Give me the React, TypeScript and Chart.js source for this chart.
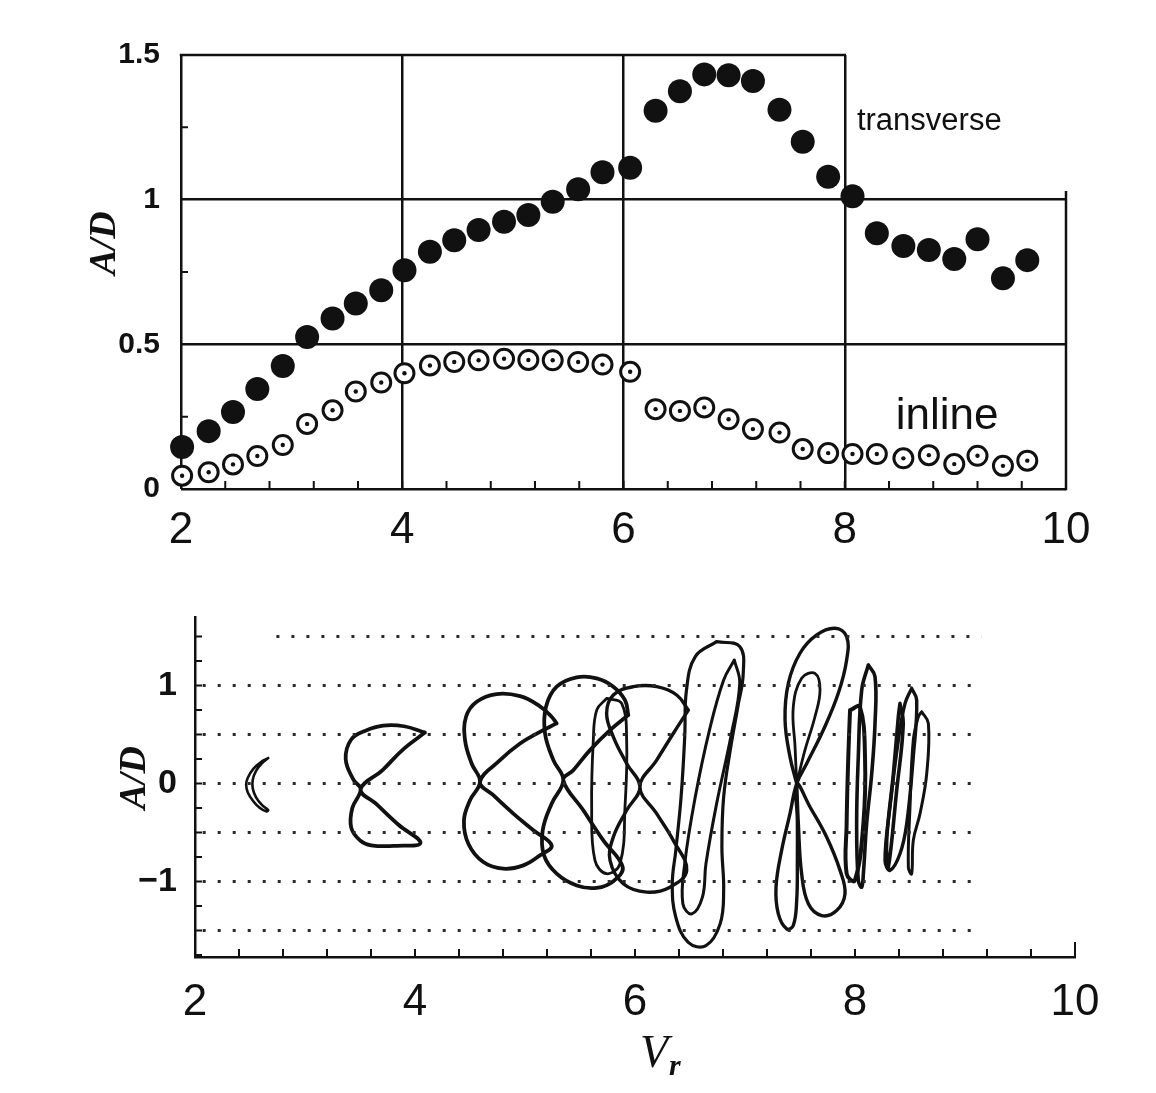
import React, { useEffect, useRef } from 'react';
import { Chart, registerables } from 'chart.js';

Chart.register(...registerables);

// ---------------- top panel: amplitude ratios ----------------
const vrValues = [2.01, 2.25, 2.47, 2.69, 2.92, 3.14, 3.37, 3.58, 3.81, 4.02, 4.25, 4.47, 4.69, 4.92, 5.14, 5.36, 5.59, 5.81, 6.06, 6.29, 6.51, 6.73, 6.95, 7.17, 7.41, 7.62, 7.85, 8.07, 8.29, 8.53, 8.76, 8.99, 9.2, 9.43, 9.65];
const transverseAD = [0.145, 0.2, 0.266, 0.346, 0.425, 0.525, 0.589, 0.641, 0.687, 0.756, 0.82, 0.86, 0.895, 0.924, 0.947, 0.993, 1.036, 1.095, 1.11, 1.307, 1.375, 1.433, 1.43, 1.41, 1.311, 1.2, 1.079, 1.012, 0.884, 0.84, 0.826, 0.795, 0.863, 0.728, 0.791];
const inlineAD = [0.046, 0.058, 0.085, 0.114, 0.152, 0.225, 0.272, 0.337, 0.368, 0.4, 0.427, 0.439, 0.445, 0.45, 0.446, 0.445, 0.439, 0.43, 0.405, 0.276, 0.27, 0.282, 0.241, 0.207, 0.195, 0.138, 0.124, 0.121, 0.121, 0.106, 0.117, 0.086, 0.115, 0.08, 0.098];
const topXTicks = [2, 4, 6, 8, 10];
const topXTickLabels = ['2', '4', '6', '8', '10'];
const topYTicks = [0, 0.5, 1, 1.5];
const topYTickLabels = ['0', '0.5', '1', '1.5'];

// ---------------- bottom panel: orbit traces ----------------
const bottomXTicks = [2, 4, 6, 8, 10];
const bottomXTickLabels = ['2', '4', '6', '8', '10'];
const bottomYTicks = [-1, 0, 1];
const bottomYTickLabels = ['\u22121', '0', '1'];
const refLevels = [1.5, 1, 0.5, 0, -0.5, -1, -1.5];
const refStarts = [2.74, 2.07, 2.07, 2.07, 2.07, 2.07, 2.07];
const refEnd = 9.15;

const orbitVr26 = [[2.666, 0.26], [2.6, 0.22], [2.53, 0.15], [2.48, 0.06], [2.465, -0.01], [2.48, -0.09], [2.53, -0.18], [2.59, -0.25], [2.65, -0.285], [2.665, -0.27], [2.61, -0.22], [2.555, -0.14], [2.525, -0.05], [2.525, 0.04], [2.555, 0.13], [2.61, 0.21], [2.666, 0.26]];
const orbitVr37 = [[4.09, 0.52], [3.9, 0.585], [3.71, 0.592], [3.55, 0.54], [3.42, 0.45], [3.37, 0.25], [3.44, 0.04], [3.506, -0.06], [3.43, -0.25], [3.42, -0.45], [3.5, -0.58], [3.6, -0.63], [3.83, -0.635], [4.05, -0.605], [3.85, -0.42], [3.65, -0.21], [3.506, -0.06], [3.71, 0.143], [3.89, 0.347], [4.09, 0.52]];
const orbitVr48 = [[5.288, 0.614], [5.242, 0.682], [5.121, 0.801], [4.955, 0.893], [4.742, 0.914], [4.561, 0.835], [4.464, 0.682], [4.455, 0.443], [4.515, 0.205], [4.591, 0.017], [4.5, -0.17], [4.445, -0.375], [4.485, -0.614], [4.621, -0.801], [4.803, -0.869], [4.985, -0.835], [5.136, -0.733], [5.242, -0.631], [5.076, -0.477], [4.894, -0.307], [4.712, -0.119], [4.591, 0.017], [4.773, 0.239], [4.955, 0.409], [5.136, 0.528], [5.288, 0.614]];
const orbitVr54 = [[5.939, 0.699], [5.909, 0.852], [5.803, 0.989], [5.652, 1.074], [5.47, 1.084], [5.288, 0.989], [5.191, 0.784], [5.182, 0.511], [5.258, 0.239], [5.348, 0.034], [5.242, -0.205], [5.161, -0.477], [5.173, -0.733], [5.288, -0.92], [5.47, -1.04], [5.652, -1.064], [5.803, -0.996], [5.888, -0.852], [5.712, -0.58], [5.53, -0.273], [5.348, 0.034], [5.439, 0.136], [5.591, 0.341], [5.773, 0.545], [5.939, 0.699]];
const orbitVr60 = [[6.485, 0.75], [6.379, 0.904], [6.197, 0.989], [5.985, 0.989], [5.803, 0.904], [5.742, 0.716], [5.803, 0.477], [5.924, 0.205], [6.045, -0.034], [5.924, -0.273], [5.803, -0.546], [5.773, -0.784], [5.894, -1.023], [6.106, -1.108], [6.318, -1.057], [6.47, -0.886], [6.348, -0.58], [6.197, -0.307], [6.045, -0.034], [6.197, 0.239], [6.348, 0.511], [6.485, 0.75]];
const orbitVr58 = [[5.742, 0.869], [5.879, 0.818], [5.924, 0.443], [5.909, -0.239], [5.864, -0.818], [5.742, -0.92], [5.636, -0.784], [5.606, -0.239], [5.621, 0.443], [5.652, 0.75], [5.742, 0.869]];
const orbitVr66a = [[6.742, 1.449], [6.952, 1.398], [6.984, 1.125], [6.935, 0.784], [6.871, 0.375], [6.806, -0.136], [6.79, -0.648], [6.806, -1.091], [6.774, -1.432], [6.645, -1.654], [6.484, -1.62], [6.371, -1.364], [6.339, -1.023], [6.371, -0.682], [6.419, -0.136], [6.452, 0.477], [6.468, 0.955], [6.548, 1.296], [6.742, 1.449]];
const orbitVr66b = [[6.903, 1.261], [6.952, 1.023], [6.871, 0.477], [6.742, -0.205], [6.645, -0.818], [6.613, -1.159], [6.516, -1.33], [6.435, -1.227], [6.452, -0.818], [6.548, -0.136], [6.677, 0.546], [6.806, 1.057], [6.903, 1.261]];
const orbitVr75 = [[7.47, 0.0], [7.409, 0.273], [7.364, 0.648], [7.394, 1.023], [7.5, 1.33], [7.652, 1.517], [7.818, 1.585], [7.924, 1.5], [7.924, 1.262], [7.848, 0.921], [7.712, 0.546], [7.561, 0.205], [7.47, 0.0], [7.409, -0.307], [7.333, -0.682], [7.282, -1.057], [7.303, -1.33], [7.379, -1.483], [7.439, -1.449], [7.47, -1.193], [7.476, -0.784], [7.476, -0.375], [7.47, 0.0], [7.591, -0.239], [7.742, -0.546], [7.864, -0.886], [7.909, -1.125], [7.833, -1.296], [7.697, -1.347], [7.576, -1.227], [7.515, -0.921], [7.485, -0.409], [7.47, 0.0]];
const orbitVr75inner = [[7.47, 0.0], [7.455, 0.375], [7.439, 0.784], [7.515, 1.074], [7.636, 1.125], [7.682, 0.955], [7.636, 0.682], [7.545, 0.341], [7.47, 0.0]];
const orbitVr80a = [[8.121, 1.21], [8.182, 1.091], [8.182, 0.614], [8.152, 0.102], [8.106, -0.409], [8.076, -0.921], [8.061, -1.057], [8.03, -0.989], [8.015, -0.409], [8.03, 0.273], [8.061, 0.955], [8.121, 1.21]];
const orbitVr80b = [[7.955, 0.75], [8.045, 0.784], [8.091, 0.273], [8.076, -0.409], [7.999, -0.989], [7.924, -0.921], [7.924, -0.409], [7.939, 0.273], [7.955, 0.75]];
const orbitVr84a = [[8.515, 0.972], [8.561, 0.852], [8.53, 0.273], [8.47, -0.409], [8.409, -0.716], [8.318, -0.886], [8.273, -0.784], [8.318, -0.239], [8.394, 0.443], [8.455, 0.818], [8.515, 0.972]];
const orbitVr84b = [[8.606, 0.733], [8.667, 0.614], [8.652, 0.102], [8.591, -0.307], [8.53, -0.58], [8.515, -0.921], [8.485, -0.853], [8.5, -0.239], [8.53, 0.443], [8.576, 0.682], [8.606, 0.733]];
const orbitVr84c = [[8.409, 0.818], [8.439, 0.614], [8.379, -0.068], [8.303, -0.853], [8.288, -0.58], [8.349, 0.102], [8.394, 0.682], [8.409, 0.818]];

const orbits = [orbitVr26, orbitVr37, orbitVr48, orbitVr54, orbitVr60, orbitVr58, orbitVr66a, orbitVr66b, orbitVr75, orbitVr75inner, orbitVr80a, orbitVr80b, orbitVr84a, orbitVr84b, orbitVr84c];
const orbitWidths = [2.6, 3.8, 3.8, 3.8, 3.4, 2.8, 3.2, 3, 3.4, 2.8, 3.6, 4, 3.4, 3, 3.6];

const INK = '#111111';
const SANS = '"Liberation Sans", Arial, Helvetica, sans-serif';
const SERIF = '"Liberation Serif", "Times New Roman", serif';

const topDecor = {
  id: 'topDecor',
  beforeDatasetsDraw(chart: any) {
    const { ctx } = chart;
    const x = chart.scales.x;
    const y = chart.scales.y;
    ctx.save();
    ctx.strokeStyle = INK;
    ctx.lineWidth = 2.5;
    ctx.beginPath();
    ctx.moveTo(x.getPixelForValue(2) - 1.25, y.getPixelForValue(1.5));
    ctx.lineTo(x.getPixelForValue(8) + 1.25, y.getPixelForValue(1.5));
    ctx.moveTo(x.getPixelForValue(10), y.getPixelForValue(0) + 1.25);
    ctx.lineTo(x.getPixelForValue(10), y.getPixelForValue(1.03));
    ctx.stroke();
    ctx.lineWidth = 2;
    ctx.beginPath();
    for (let k = 1; k < 20; k++) {
      const px = x.getPixelForValue(2 + 0.4 * k);
      ctx.moveTo(px, y.getPixelForValue(0));
      ctx.lineTo(px, y.getPixelForValue(0) - 8);
    }
    for (const v of [0.25, 0.75, 1.25]) {
      const py = y.getPixelForValue(v);
      ctx.moveTo(x.getPixelForValue(2), py);
      ctx.lineTo(x.getPixelForValue(2) + 7, py);
    }
    ctx.stroke();
    ctx.restore();
  },
  afterDraw(chart: any) {
    const { ctx } = chart;
    const x = chart.scales.x;
    const y = chart.scales.y;
    ctx.save();
    ctx.fillStyle = INK;
    ctx.textBaseline = 'middle';
    ctx.textAlign = 'left';
    ctx.font = `31px ${SANS}`;
    ctx.fillText('transverse', x.getPixelForValue(8.11), y.getPixelForValue(1.27));
    ctx.font = `44px ${SANS}`;
    ctx.fillText('inline', x.getPixelForValue(8.46), y.getPixelForValue(0.25));
    ctx.translate(chart.chartArea.left - 76, y.getPixelForValue(0.85));
    ctx.rotate(-Math.PI / 2);
    ctx.textAlign = 'center';
    ctx.font = `italic bold 38px ${SERIF}`;
    ctx.fillText('A/D', 0, 0);
    ctx.restore();
  },
};

const bottomDecor = {
  id: 'bottomDecor',
  beforeDatasetsDraw(chart: any) {
    const { ctx } = chart;
    const x = chart.scales.x;
    const y = chart.scales.y;
    const base = chart.chartArea.bottom;
    const left = chart.chartArea.left;
    ctx.save();
    ctx.strokeStyle = INK;
    ctx.lineWidth = 2;
    ctx.beginPath();
    for (let k = 1; k <= 20; k++) {
      const px = x.getPixelForValue(2 + 0.4 * k);
      ctx.moveTo(px, base);
      ctx.lineTo(px, base - (k === 20 ? 15 : 8));
    }
    for (let k = -7; k <= 6; k++) {
      const py = y.getPixelForValue(0.25 * k);
      ctx.moveTo(left, py);
      ctx.lineTo(left + 7, py);
    }
    ctx.stroke();
    ctx.restore();
  },
  afterDraw(chart: any) {
    const { ctx } = chart;
    const x = chart.scales.x;
    const y = chart.scales.y;
    ctx.save();
    ctx.fillStyle = INK;
    ctx.textBaseline = 'alphabetic';
    ctx.textAlign = 'right';
    ctx.font = `italic 46px ${SERIF}`;
    const vx = x.getPixelForValue(6.3);
    const vy = chart.chartArea.bottom + 110;
    ctx.fillText('V', vx, vy);
    ctx.textAlign = 'left';
    ctx.font = `italic bold 30px ${SERIF}`;
    ctx.fillText('r', vx + 1, vy + 8);
    ctx.translate(chart.chartArea.left - 60, y.getPixelForValue(0.06));
    ctx.rotate(-Math.PI / 2);
    ctx.textAlign = 'center';
    ctx.textBaseline = 'middle';
    ctx.font = `italic bold 38px ${SERIF}`;
    ctx.fillText('A/D', 0, 0);
    ctx.restore();
  },
};

function topConfig(): any {
  const pts = (ys: number[]) => vrValues.map((v, i) => ({ x: v, y: ys[i] }));
  return {
    type: 'scatter',
    data: {
      datasets: [
        { label: 'transverse', order: 3, data: pts(transverseAD), pointRadius: 12, pointBackgroundColor: INK, pointBorderColor: INK, pointBorderWidth: 0, clip: false },
        { label: 'inline', order: 2, data: pts(inlineAD), pointRadius: 9.5, pointBackgroundColor: '#ffffff', pointBorderColor: INK, pointBorderWidth: 3, clip: false },
        { label: 'inline centre', order: 1, data: pts(inlineAD), pointRadius: 2.2, pointBackgroundColor: INK, pointBorderColor: INK, pointBorderWidth: 0, clip: false },
      ],
    },
    options: {
      animation: false,
      responsive: false,
      devicePixelRatio: 1,
      events: [],
      layout: { padding: { top: 55, right: 90, left: 0, bottom: 0 } },
      plugins: { legend: { display: false }, tooltip: { enabled: false } },
      scales: {
        x: {
          type: 'linear', min: 2, max: 10,
          afterBuildTicks: (s: any) => { s.ticks = topXTicks.map((v) => ({ value: v })); },
          afterFit: (s: any) => { s.height = 81; },
          grid: { color: (c: any) => (c.tick && c.tick.value === 10 ? 'rgba(0,0,0,0)' : INK), lineWidth: 2.5, drawTicks: false },
          border: { display: false },
          ticks: { padding: 15, color: INK, font: { family: SANS, size: 44 }, maxRotation: 0, autoSkip: false, callback: (_v: any, i: number) => topXTickLabels[i] },
        },
        y: {
          type: 'linear', min: 0, max: 1.5,
          afterBuildTicks: (s: any) => { s.ticks = topYTicks.map((v) => ({ value: v })); },
          afterFit: (s: any) => { s.width = 181; },
          grid: { color: (c: any) => (c.tick && c.tick.value === 1.5 ? 'rgba(0,0,0,0)' : INK), lineWidth: 2.5, drawTicks: false },
          border: { display: false },
          ticks: { padding: 21, color: INK, font: { family: SANS, size: 30, weight: 'bold' }, autoSkip: false, callback: (_v: any, i: number) => topYTickLabels[i] },
        },
      },
    },
    plugins: [topDecor],
  };
}

function bottomConfig(): any {
  const refSets = refLevels.map((lvl, i) => ({
    label: `ref ${lvl}`,
    data: [{ x: refStarts[i], y: lvl }, { x: refEnd, y: lvl }],
    showLine: true,
    borderColor: '#2a2a2a',
    borderWidth: 3,
    borderDash: [3, 12],
    pointRadius: 0,
    clip: false,
  }));
  const orbitSets = orbits.map((o, i) => ({
    label: `orbit ${i}`,
    data: o.map(([vx, vy]) => ({ x: vx, y: vy })),
    showLine: true,
    tension: 0.4,
    borderColor: INK,
    borderWidth: orbitWidths[i],
    borderJoinStyle: 'round',
    borderCapStyle: 'round',
    pointRadius: 0,
    clip: false,
  }));
  return {
    type: 'scatter',
    data: { datasets: [...refSets, ...orbitSets] },
    options: {
      animation: false,
      responsive: false,
      devicePixelRatio: 1,
      events: [],
      layout: { padding: { top: 47, right: 81, left: 0, bottom: 0 } },
      plugins: { legend: { display: false }, tooltip: { enabled: false } },
      scales: {
        x: {
          type: 'linear', min: 2, max: 10,
          afterBuildTicks: (s: any) => { s.ticks = bottomXTicks.map((v) => ({ value: v })); },
          afterFit: (s: any) => { s.height = 136; },
          grid: { display: false, drawTicks: false },
          border: { display: true, color: INK, width: 2.5 },
          ticks: { padding: 19, color: INK, font: { family: SANS, size: 44 }, maxRotation: 0, autoSkip: false, callback: (_v: any, i: number) => bottomXTickLabels[i] },
        },
        y: {
          type: 'linear', min: -1.77, max: 1.7,
          afterBuildTicks: (s: any) => { s.ticks = bottomYTicks.map((v) => ({ value: v })); },
          afterFit: (s: any) => { s.width = 195; },
          grid: { display: false, drawTicks: false },
          border: { display: true, color: INK, width: 2.5 },
          ticks: { padding: 18, color: INK, font: { family: SANS, size: 34, weight: 'bold' }, autoSkip: false, callback: (_v: any, i: number) => bottomYTickLabels[i] },
        },
      },
    },
    plugins: [bottomDecor],
  };
}

export default function App() {
  const topRef = useRef<HTMLCanvasElement>(null);
  const botRef = useRef<HTMLCanvasElement>(null);
  useEffect(() => {
    const c1 = new Chart(topRef.current as HTMLCanvasElement, topConfig());
    const c2 = new Chart(botRef.current as HTMLCanvasElement, bottomConfig());
    return () => {
      c1.destroy();
      c2.destroy();
    };
  }, []);
  return (
    <div style={{ position: 'absolute', left: 0, top: 0, width: 1156, height: 1093, background: '#ffffff', overflow: 'hidden' }}>
      <canvas ref={topRef} width={1156} height={570} style={{ position: 'absolute', left: 0, top: 0, width: 1156, height: 570 }} />
      <canvas ref={botRef} width={1156} height={523} style={{ position: 'absolute', left: 0, top: 570, width: 1156, height: 523 }} />
    </div>
  );
}
